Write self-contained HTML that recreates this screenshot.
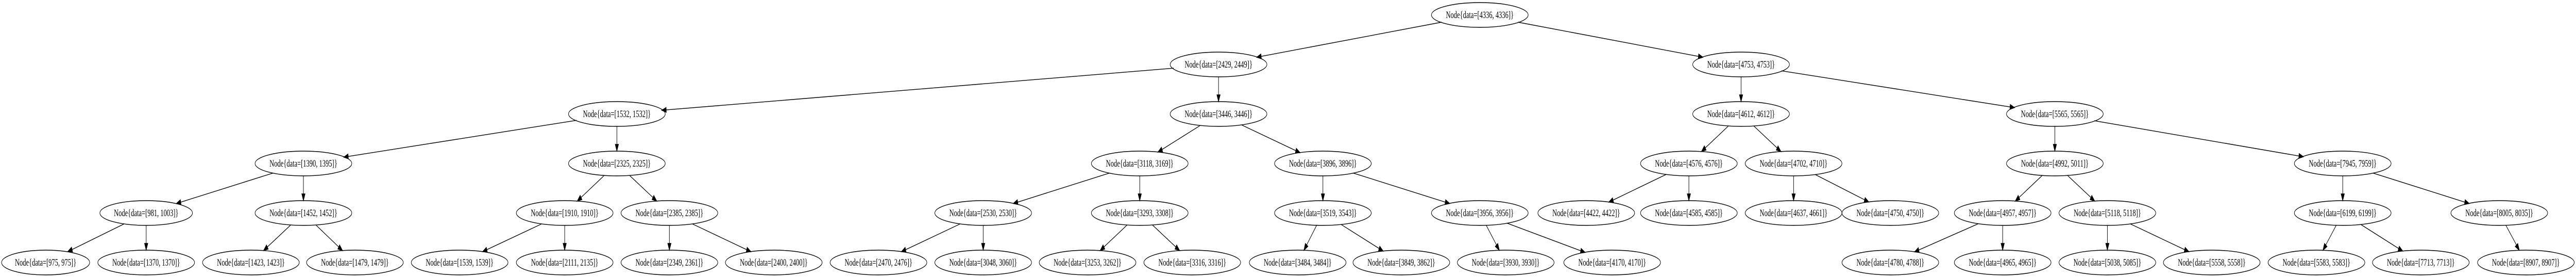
<!DOCTYPE html>
<html><head><meta charset="utf-8">
<style>
html,body{margin:0;padding:0;background:#fff;width:100vw;height:100vh;overflow:hidden;}
svg{display:block;width:100vw;height:100vh;}
text{font-family:"Liberation Serif","Times New Roman",serif;font-size:18.67px;fill:#000;}
</style></head>
<body>
<svg id="g" viewBox="0 0 7454 539" preserveAspectRatio="none" xmlns="http://www.w3.org/2000/svg">
<rect width="7454" height="539" fill="#fff"/>
<g id="edges" stroke="#000" stroke-width="1.4" fill="none"></g>
<g id="heads" fill="#000" stroke="#000" stroke-width="1.4"></g>
<g id="nodes" fill="none" stroke="#000" stroke-width="1.4">
<ellipse cx="4282" cy="29" rx="140" ry="24"/>
<ellipse cx="3526" cy="125" rx="140" ry="24"/>
<ellipse cx="5038" cy="125" rx="140" ry="24"/>
<ellipse cx="1785" cy="221" rx="140" ry="24"/>
<ellipse cx="3526" cy="221" rx="140" ry="24"/>
<ellipse cx="5038" cy="221" rx="140" ry="24"/>
<ellipse cx="5946" cy="221" rx="140" ry="24"/>
<ellipse cx="878" cy="317" rx="140" ry="24"/>
<ellipse cx="1785" cy="317" rx="140" ry="24"/>
<ellipse cx="3298" cy="317" rx="140" ry="24"/>
<ellipse cx="3828" cy="317" rx="140" ry="24"/>
<ellipse cx="4887" cy="317" rx="140" ry="24"/>
<ellipse cx="5190" cy="317" rx="140" ry="24"/>
<ellipse cx="5946" cy="317" rx="140" ry="24"/>
<ellipse cx="6779" cy="317" rx="140" ry="24"/>
<ellipse cx="423" cy="413" rx="134" ry="24"/>
<ellipse cx="878" cy="413" rx="140" ry="24"/>
<ellipse cx="1634" cy="413" rx="140" ry="24"/>
<ellipse cx="1937" cy="413" rx="140" ry="24"/>
<ellipse cx="2845" cy="413" rx="140" ry="24"/>
<ellipse cx="3298" cy="413" rx="140" ry="24"/>
<ellipse cx="3828" cy="413" rx="140" ry="24"/>
<ellipse cx="4282" cy="413" rx="140" ry="24"/>
<ellipse cx="4590" cy="413" rx="140" ry="24"/>
<ellipse cx="4887" cy="413" rx="140" ry="24"/>
<ellipse cx="5190" cy="413" rx="140" ry="24"/>
<ellipse cx="5470" cy="413" rx="140" ry="24"/>
<ellipse cx="5795" cy="413" rx="140" ry="24"/>
<ellipse cx="6098" cy="413" rx="140" ry="24"/>
<ellipse cx="6779" cy="413" rx="140" ry="24"/>
<ellipse cx="7232" cy="413" rx="140" ry="24"/>
<ellipse cx="132" cy="509" rx="127.5" ry="24"/>
<ellipse cx="423" cy="509" rx="140" ry="24"/>
<ellipse cx="726" cy="509" rx="140" ry="24"/>
<ellipse cx="1027" cy="509" rx="140" ry="24"/>
<ellipse cx="1330" cy="509" rx="140" ry="24"/>
<ellipse cx="1634" cy="509" rx="140" ry="24"/>
<ellipse cx="1937" cy="509" rx="140" ry="24"/>
<ellipse cx="2239" cy="509" rx="140" ry="24"/>
<ellipse cx="2542" cy="509" rx="140" ry="24"/>
<ellipse cx="2845" cy="509" rx="140" ry="24"/>
<ellipse cx="3147" cy="509" rx="140" ry="24"/>
<ellipse cx="3450" cy="509" rx="140" ry="24"/>
<ellipse cx="3755" cy="509" rx="140" ry="24"/>
<ellipse cx="4055" cy="509" rx="140" ry="24"/>
<ellipse cx="4357" cy="509" rx="140" ry="24"/>
<ellipse cx="4665" cy="509" rx="140" ry="24"/>
<ellipse cx="5470" cy="509" rx="140" ry="24"/>
<ellipse cx="5795" cy="509" rx="140" ry="24"/>
<ellipse cx="6098" cy="509" rx="140" ry="24"/>
<ellipse cx="6400" cy="509" rx="140" ry="24"/>
<ellipse cx="6703" cy="509" rx="140" ry="24"/>
<ellipse cx="7005" cy="509" rx="140" ry="24"/>
<ellipse cx="7309" cy="509" rx="140" ry="24"/>
</g>
<g text-anchor="middle">
<text x="4282" y="35">Node{data=[4336, 4336]}</text>
<text x="3526" y="131">Node{data=[2429, 2449]}</text>
<text x="5038" y="131">Node{data=[4753, 4753]}</text>
<text x="1785" y="227">Node{data=[1532, 1532]}</text>
<text x="3526" y="227">Node{data=[3446, 3446]}</text>
<text x="5038" y="227">Node{data=[4612, 4612]}</text>
<text x="5946" y="227">Node{data=[5565, 5565]}</text>
<text x="878" y="323">Node{data=[1390, 1395]}</text>
<text x="1785" y="323">Node{data=[2325, 2325]}</text>
<text x="3298" y="323">Node{data=[3118, 3169]}</text>
<text x="3828" y="323">Node{data=[3896, 3896]}</text>
<text x="4887" y="323">Node{data=[4576, 4576]}</text>
<text x="5190" y="323">Node{data=[4702, 4710]}</text>
<text x="5946" y="323">Node{data=[4992, 5011]}</text>
<text x="6779" y="323">Node{data=[7945, 7959]}</text>
<text x="423" y="419">Node{data=[981, 1003]}</text>
<text x="878" y="419">Node{data=[1452, 1452]}</text>
<text x="1634" y="419">Node{data=[1910, 1910]}</text>
<text x="1937" y="419">Node{data=[2385, 2385]}</text>
<text x="2845" y="419">Node{data=[2530, 2530]}</text>
<text x="3298" y="419">Node{data=[3293, 3308]}</text>
<text x="3828" y="419">Node{data=[3519, 3543]}</text>
<text x="4282" y="419">Node{data=[3956, 3956]}</text>
<text x="4590" y="419">Node{data=[4422, 4422]}</text>
<text x="4887" y="419">Node{data=[4585, 4585]}</text>
<text x="5190" y="419">Node{data=[4637, 4661]}</text>
<text x="5470" y="419">Node{data=[4750, 4750]}</text>
<text x="5795" y="419">Node{data=[4957, 4957]}</text>
<text x="6098" y="419">Node{data=[5118, 5118]}</text>
<text x="6779" y="419">Node{data=[6199, 6199]}</text>
<text x="7232" y="419">Node{data=[8005, 8035]}</text>
<text x="132" y="515">Node{data=[975, 975]}</text>
<text x="423" y="515">Node{data=[1370, 1370]}</text>
<text x="726" y="515">Node{data=[1423, 1423]}</text>
<text x="1027" y="515">Node{data=[1479, 1479]}</text>
<text x="1330" y="515">Node{data=[1539, 1539]}</text>
<text x="1634" y="515">Node{data=[2111, 2135]}</text>
<text x="1937" y="515">Node{data=[2349, 2361]}</text>
<text x="2239" y="515">Node{data=[2400, 2400]}</text>
<text x="2542" y="515">Node{data=[2470, 2476]}</text>
<text x="2845" y="515">Node{data=[3048, 3060]}</text>
<text x="3147" y="515">Node{data=[3253, 3262]}</text>
<text x="3450" y="515">Node{data=[3316, 3316]}</text>
<text x="3755" y="515">Node{data=[3484, 3484]}</text>
<text x="4055" y="515">Node{data=[3849, 3862]}</text>
<text x="4357" y="515">Node{data=[3930, 3930]}</text>
<text x="4665" y="515">Node{data=[4170, 4170]}</text>
<text x="5470" y="515">Node{data=[4780, 4788]}</text>
<text x="5795" y="515">Node{data=[4965, 4965]}</text>
<text x="6098" y="515">Node{data=[5038, 5085]}</text>
<text x="6400" y="515">Node{data=[5558, 5558]}</text>
<text x="6703" y="515">Node{data=[5583, 5583]}</text>
<text x="7005" y="515">Node{data=[7713, 7713]}</text>
<text x="7309" y="515">Node{data=[8907, 8907]}</text>
</g>
</svg>
<script>
(function(){
var L=[29,125,221,317,413,509];
var E=[
[4282,0,3526],[4282,0,5038],
[3526,1,1785],[3526,1,3526],[5038,1,5038],[5038,1,5946],
[1785,2,878],[1785,2,1785],[3526,2,3298],[3526,2,3828],[5038,2,4887],[5038,2,5190],[5946,2,5946],[5946,2,6779],
[878,3,423],[878,3,878],[1785,3,1634],[1785,3,1937],[3298,3,2845],[3298,3,3298],[3828,3,3828],[3828,3,4282],
[4887,3,4590],[4887,3,4887],[5190,3,5190],[5190,3,5470],[5946,3,5795],[5946,3,6098],[6779,3,6779],[6779,3,7232],
[423,4,132],[423,4,423],[878,4,726],[878,4,1027],[1634,4,1330],[1634,4,1634],[1937,4,1937],[1937,4,2239],
[2845,4,2542],[2845,4,2845],[3298,4,3147],[3298,4,3450],[3828,4,3755],[3828,4,4055],[4282,4,4357],[4282,4,4665],
[5795,4,5470],[5795,4,5795],[6098,4,6098],[6098,4,6400],[6779,4,6703],[6779,4,7005],[7232,4,7309]
];
var rx=136,ry=24,ns="http://www.w3.org/2000/svg";
var eg=document.getElementById('edges'),hg=document.getElementById('heads');
function clip(cx,cy,dx,dy){var t=1/Math.sqrt(dx*dx/(rx*rx)+dy*dy/(ry*ry));return [cx+dx*t,cy+dy*t];}
E.forEach(function(e){
 var x1=e[0],y1=L[e[1]],x2=e[2],y2=L[e[1]+1];
 var dx=x2-x1,dy=y2-y1;
 var s=clip(x1,y1,dx,dy), t=clip(x2,y2,-dx,-dy);
 var len=Math.sqrt((t[0]-s[0])*(t[0]-s[0])+(t[1]-s[1])*(t[1]-s[1]));
 var ux=(t[0]-s[0])/len,uy=(t[1]-s[1])/len;
 var ah=13,aw=4.7;
 var bx=t[0]-ux*ah,by=t[1]-uy*ah;
 var p=document.createElementNS(ns,'path');
 p.setAttribute('d','M'+s[0].toFixed(1)+','+s[1].toFixed(1)+'L'+bx.toFixed(1)+','+by.toFixed(1));
 eg.appendChild(p);
 var h=document.createElementNS(ns,'polygon');
 h.setAttribute('points',t[0].toFixed(1)+','+t[1].toFixed(1)+' '+(bx-uy*aw).toFixed(1)+','+(by+ux*aw).toFixed(1)+' '+(bx+uy*aw).toFixed(1)+','+(by-ux*aw).toFixed(1));
 hg.appendChild(h);
});
})();
</script>
</body></html>
